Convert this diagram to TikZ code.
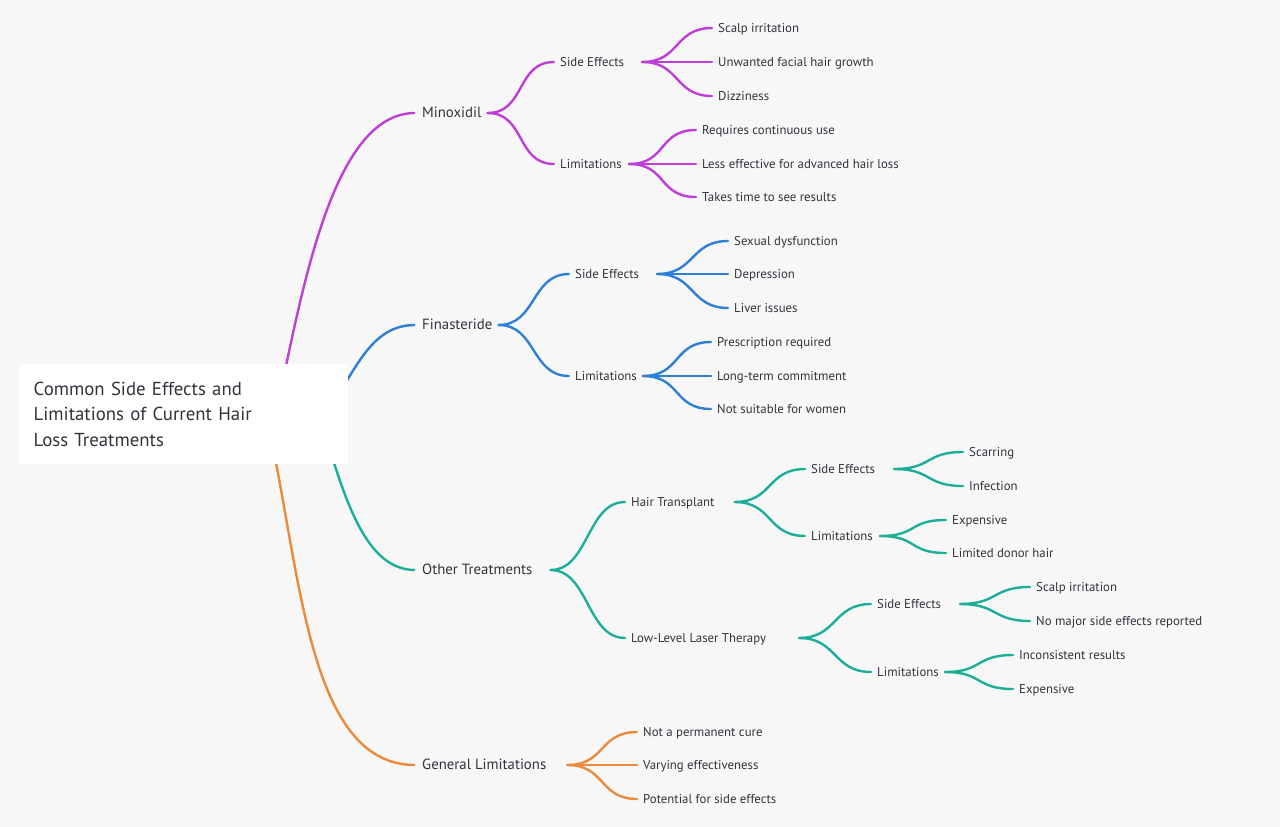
\documentclass[tikz,border=0pt]{standalone}
\usepackage{fontspec}
\setmainfont{PT Sans}
\usetikzlibrary{calc,backgrounds}

\definecolor{bgcol}{HTML}{F7F7F8}
\definecolor{txtcol}{HTML}{30343B}
\definecolor{mino}{HTML}{BF3FD6}
\definecolor{fina}{HTML}{2E80D5}
\definecolor{other}{HTML}{1DAE99}
\definecolor{gen}{HTML}{EC8A3C}

\begin{document}
\begin{tikzpicture}[x = 1pt, y = -1pt,
        leaf/.style = {anchor = west, inner sep = 0pt, text = txtcol, text height = 1.9ex, text depth = .25ex, font = \fontsize{12.8}{15}\selectfont},
        main/.style = {leaf, font = \fontsize{14.8}{17}\selectfont},
        link/.style = {line width = 2.4pt, line cap = round, to path = {.. controls ($(\tikztostart)+(38,0)$) and ($(\tikztotarget)-(38,0)$) .. (\tikztotarget)}}]
        \useasboundingbox (0,0) rectangle (1280,827);

        % root box
        \node (root) [anchor = north west, fill = white, minimum width = 329pt, minimum height = 100pt, inner xsep = 14pt, text width = 300pt, align = left, text = txtcol, font = \fontsize{18.8}{25.5}\selectfont] at (19,364)
            {Common Side Effects and\\ Limitations of Current Hair\\ Loss Treatments};

        % main branches
        \node (mino) [main] at (422,113) {Minoxidil};
        \node (fina) [main] at (422,325) {Finasteride};
        \node (other) [main] at (422,570) {Other Treatments};
        \node (gen) [main] at (422,765) {General Limitations};

        % Minoxidil
        \node (mse) [leaf] at (560,62) {Side Effects};
        \node (mli) [leaf] at (560,164) {Limitations};
        \node (mse1) [leaf] at (718,28) {Scalp irritation};
        \node (mse2) [leaf] at (718,62) {Unwanted facial hair growth};
        \node (mse3) [leaf] at (718,96) {Dizziness};
        \node (mli1) [leaf] at (702,130) {Requires continuous use};
        \node (mli2) [leaf] at (702,164) {Less effective for advanced hair loss};
        \node (mli3) [leaf] at (702,197) {Takes time to see results};

        % Finasteride
        \node (fse) [leaf] at (575,274) {Side Effects};
        \node (fli) [leaf] at (575,376) {Limitations};
        \node (fse1) [leaf] at (734,241) {Sexual dysfunction};
        \node (fse2) [leaf] at (734,274) {Depression};
        \node (fse3) [leaf] at (734,308) {Liver issues};
        \node (fli1) [leaf] at (717,342) {Prescription required};
        \node (fli2) [leaf] at (717,376) {Long-term commitment};
        \node (fli3) [leaf] at (717,409) {Not suitable for women};

        % Other treatments
        \node (ht) [leaf] at (631,502) {Hair Transplant};
        \node (ll) [leaf] at (631,638) {Low-Level Laser Therapy};
        \node (htse) [leaf] at (811,469) {Side Effects};
        \node (htli) [leaf] at (811,536) {Limitations};
        \node (htse1) [leaf] at (969,452) {Scarring};
        \node (htse2) [leaf] at (969,486) {Infection};
        \node (htli1) [leaf] at (952,520) {Expensive};
        \node (htli2) [leaf] at (952,553) {Limited donor hair};
        \node (llse) [leaf] at (877,604) {Side Effects};
        \node (llli) [leaf] at (877,672) {Limitations};
        \node (llse1) [leaf] at (1036,587) {Scalp irritation};
        \node (llse2) [leaf] at (1036,621) {No major side effects reported};
        \node (llli1) [leaf] at (1019,655) {Inconsistent results};
        \node (llli2) [leaf] at (1019,689) {Expensive};

        % General limitations
        \node (gen1) [leaf] at (643,732) {Not a permanent cure};
        \node (gen2) [leaf] at (643,765) {Varying effectiveness};
        \node (gen3) [leaf] at (643,799) {Potential for side effects};

        \begin{scope}[on background layer]
            \fill [bgcol] (0,0) rectangle (1280,827);
            \draw [mino, line width = 2.4pt] ([xshift = 92pt]root.center) .. controls +(25,-113) and +(-85,0) .. ([xshift = -7pt]mino.west);
            \draw [fina, line width = 2.4pt] ([xshift = 142pt]root.center) .. controls +(30,-43) and +(-45,0) .. ([xshift = -7pt]fina.west);
            \draw [other, line width = 2.4pt] ([xshift = 135pt]root.center) .. controls +(22,67) and +(-55,0) .. ([xshift = -7pt]other.west);
            \draw [gen, line width = 2.4pt] ([xshift = 82pt]root.center) .. controls +(35,147) and +(-110,0) .. ([xshift = -7pt]gen.west);
        \end{scope}

        \foreach \c in {mse, mli} \draw [link, mino] ([xshift = 6pt]mino.east) to ([xshift = -6pt]\c.west);
        \foreach \c in {mse1, mse2, mse3} \draw [link, mino] ([xshift = 18pt]mse.east) to ([xshift = -6pt]\c.west);
        \foreach \c in {mli1, mli2, mli3} \draw [link, mino] ([xshift = 7pt]mli.east) to ([xshift = -6pt]\c.west);

        \foreach \c in {fse, fli} \draw [link, fina] ([xshift = 6pt]fina.east) to ([xshift = -6pt]\c.west);
        \foreach \c in {fse1, fse2, fse3} \draw [link, fina] ([xshift = 18pt]fse.east) to ([xshift = -6pt]\c.west);
        \foreach \c in {fli1, fli2, fli3} \draw [link, fina] ([xshift = 6pt]fli.east) to ([xshift = -6pt]\c.west);

        \foreach \c in {ht, ll} \draw [link, other] ([xshift = 18pt]other.east) to ([xshift = -6pt]\c.west);
        \foreach \c in {htse, htli} \draw [link, other] ([xshift = 20pt]ht.east) to ([xshift = -6pt]\c.west);
        \foreach \c in {htse1, htse2} \draw [link, other] ([xshift = 19pt]htse.east) to ([xshift = -6pt]\c.west);
        \foreach \c in {htli1, htli2} \draw [link, other] ([xshift = 7pt]htli.east) to ([xshift = -6pt]\c.west);
        \foreach \c in {llse, llli} \draw [link, other] ([xshift = 33pt]ll.east) to ([xshift = -6pt]\c.west);
        \foreach \c in {llse1, llse2} \draw [link, other] ([xshift = 19pt]llse.east) to ([xshift = -6pt]\c.west);
        \foreach \c in {llli1, llli2} \draw [link, other] ([xshift = 6pt]llli.east) to ([xshift = -6pt]\c.west);

        \foreach \c in {gen1, gen2, gen3} \draw [link, gen] ([xshift = 21pt]gen.east) to ([xshift = -6pt]\c.west);
\end{tikzpicture}
\end{document}
